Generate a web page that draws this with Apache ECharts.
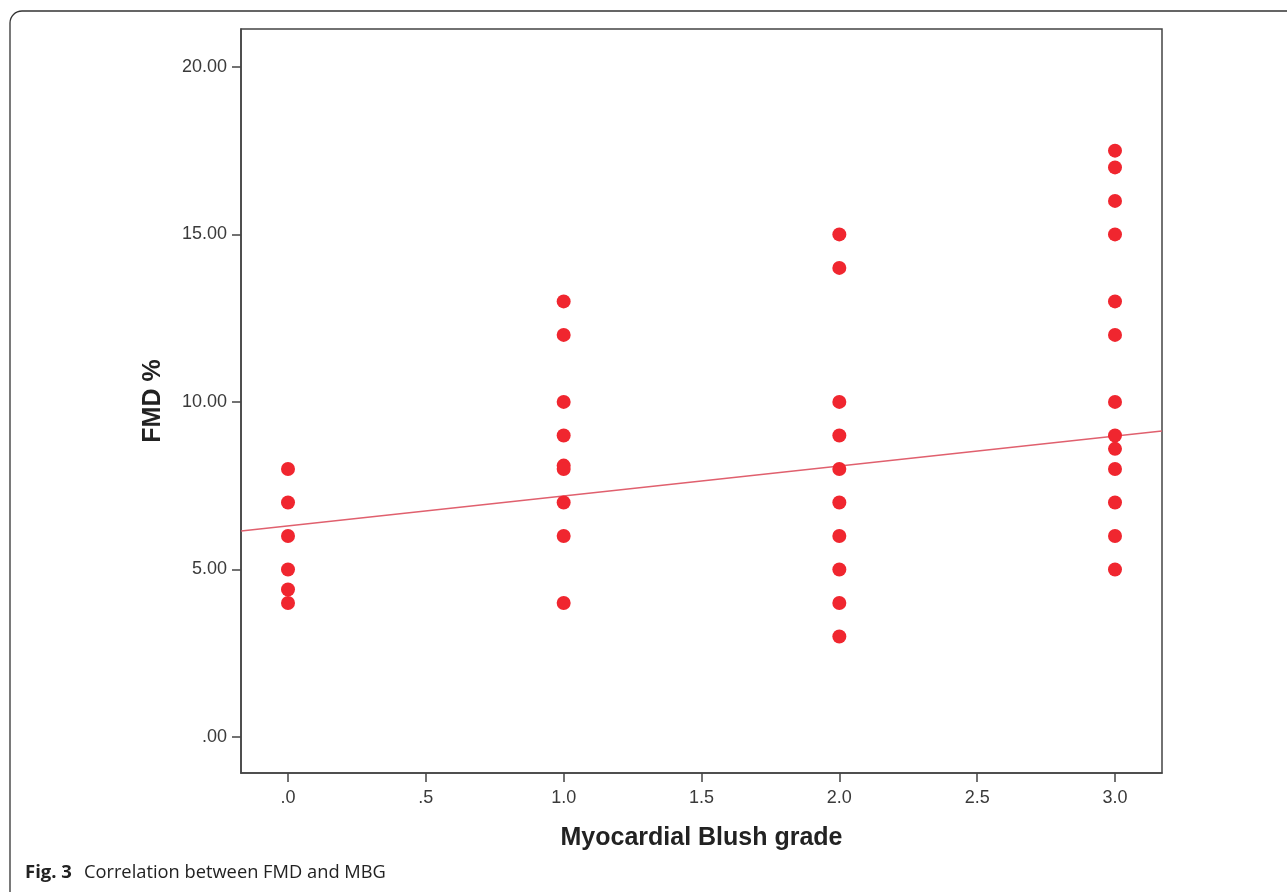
<!DOCTYPE html>
<html>
<head>
<meta charset="utf-8">
<script src="https://cdn.jsdelivr.net/npm/echarts@6/dist/echarts.min.js"></script>
<style>
  html, body { margin: 0; padding: 0; background: #fff; }
  #chart { width: 1287px; height: 892px; }
</style>
</head>
<body>
<div id="chart"></div>
<script>
// Myocardial blush grade (x) vs FMD % (y), one entry per patient
let mbgGrade = [
  0, 0, 0, 0, 0, 0,
  1, 1, 1, 1, 1, 1, 1, 1, 1,
  2, 2, 2, 2, 2, 2, 2, 2, 2, 2,
  3, 3, 3, 3, 3, 3, 3, 3, 3, 3, 3, 3, 3
];
let fmdPct = [
  8, 7, 6, 5, 4.4, 4,
  13, 12, 10, 9, 8.1, 8, 7, 6, 4,
  15, 14, 10, 9, 8, 7, 6, 5, 4, 3,
  17.5, 17, 16, 15, 13, 12, 10, 9, 8.6, 8, 7, 6, 5
];
// fit line, read at the two plot edges
let fitX = [-0.17, 3.17];
let fitY = [6.15, 9.13];

let xTicks = [0, 0.5, 1, 1.5, 2, 2.5, 3];
let yTicks = [0, 5, 10, 15, 20];

function spssFmt(v, d) {
  let s = v.toFixed(d);
  if (s.startsWith('0.')) s = s.slice(1);
  return s;
}

let pts = mbgGrade.map((x, i) => [x, fmdPct[i]]);
let fitLine = fitX.map((x, i) => [x, fitY[i]]);

let chart = echarts.init(document.getElementById('chart'));
let axisTxt = { color: '#3a3a3a', fontSize: 18, fontFamily: 'Liberation Sans, Arial, sans-serif' };
let capFont = 'Open Sans, Noto Sans, sans-serif';

chart.setOption({
  animation: false,
  backgroundColor: '#fff',
  grid: {
    left: 241, top: 29, right: 125, bottom: 119,
    show: true, borderColor: '#444', borderWidth: 1.5
  },
  graphic: [
    {
      type: 'rect',
      shape: { x: 10, y: 11, width: 1320, height: 920, r: 12 },
      style: { fill: 'none', stroke: '#333', lineWidth: 1.3 },
      silent: true
    },
    {
      type: 'text',
      left: 25, top: 863,
      style: {
        text: '{b|Fig. 3}{n|Correlation between FMD and MBG}',
        rich: {
          b: { fontWeight: 'bold', fontSize: 18.5, fill: '#222', fontFamily: capFont, padding: [0, 12, 0, 0] },
          n: { fontSize: 18.3, fill: '#222', fontFamily: capFont }
        }
      }
    }
  ],
  xAxis: {
    type: 'value',
    min: -0.1705, max: 3.1705,
    name: 'Myocardial Blush grade',
    nameLocation: 'middle',
    nameGap: 53,
    nameTextStyle: { color: '#222', fontSize: 25, fontWeight: 'bold', fontFamily: 'Liberation Sans, Arial, sans-serif' },
    splitLine: { show: false },
    axisLine: { show: true, onZero: false, lineStyle: { color: '#444', width: 1.5 } },
    axisTick: { show: true, inside: false, length: 9, lineStyle: { color: '#444', width: 1.5 }, customValues: xTicks },
    axisLabel: Object.assign({ margin: 16, customValues: xTicks, formatter: v => spssFmt(v, 1) }, axisTxt)
  },
  yAxis: {
    type: 'value',
    min: -1.075, max: 21.13,
    name: 'FMD %',
    nameLocation: 'middle',
    nameGap: 75,
    nameRotate: 90,
    nameTextStyle: { color: '#222', fontSize: 25, fontWeight: 'bold', fontFamily: 'Liberation Sans, Arial, sans-serif' },
    splitLine: { show: false },
    axisLine: { show: true, onZero: false, lineStyle: { color: '#444', width: 1.5 } },
    axisTick: { show: true, inside: false, length: 9, lineStyle: { color: '#444', width: 1.5 }, customValues: yTicks },
    axisLabel: Object.assign({ margin: 14, customValues: yTicks, formatter: v => spssFmt(v, 2) }, axisTxt)
  },
  series: [
    {
      name: 'fit',
      type: 'line',
      data: fitLine,
      symbol: 'none',
      lineStyle: { color: '#e0606e', width: 1.5 },
      z: 1
    },
    {
      name: 'FMD',
      type: 'scatter',
      data: pts,
      symbolSize: 14,
      itemStyle: { color: '#f0262f', opacity: 1 },
      z: 2
    }
  ]
});
</script>
</body>
</html>
